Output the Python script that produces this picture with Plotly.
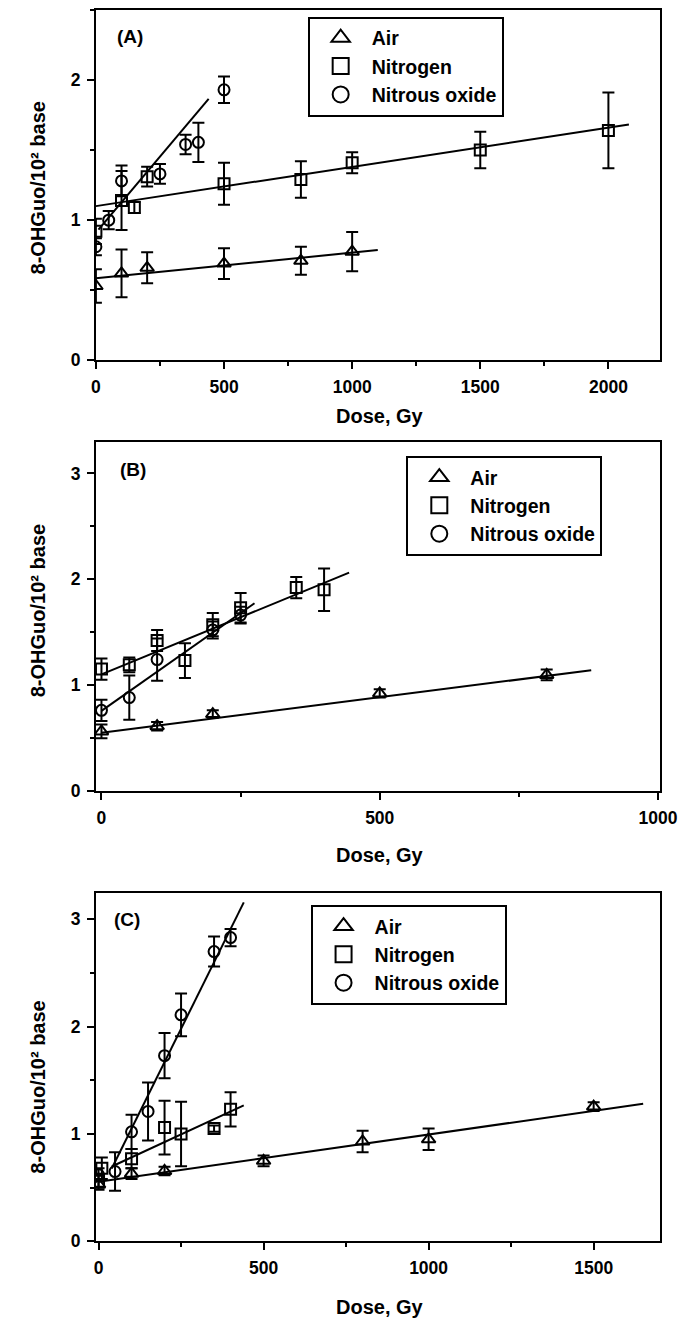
import plotly.graph_objects as go

W, H = 697, 1330
FONT = "Liberation Sans, Arial, sans-serif"

# ---------------- data ----------------
# Panel A
a_air_x = [0, 100, 200, 500, 800, 1000]
a_air_y = [0.53, 0.62, 0.66, 0.69, 0.71, 0.775]
a_air_e = [0.12, 0.17, 0.11, 0.11, 0.10, 0.14]
a_n2_x = [0, 100, 150, 200, 500, 800, 1000, 1500, 2000]
a_n2_y = [0.92, 1.14, 1.09, 1.31, 1.26, 1.29, 1.41, 1.50, 1.64]
a_n2_e = [0.09, 0.21, 0.04, 0.07, 0.15, 0.13, 0.075, 0.13, 0.27]
a_n2o_x = [0, 50, 100, 250, 350, 400, 500]
a_n2o_y = [0.81, 1.00, 1.28, 1.33, 1.54, 1.555, 1.93]
a_n2o_e = [0.06, 0.065, 0.11, 0.07, 0.07, 0.14, 0.095]
# fits: intercept, slope, x start, x end
a_air_fit = [0.585, 0.000183, 0, 1100]
a_n2_fit = [1.10, 0.00028, 0, 2080]
a_n2o_fit = [0.91, 0.00217, 10, 440]

# Panel B
b_air_x = [0, 100, 200, 500, 800]
b_air_y = [0.56, 0.61, 0.725, 0.92, 1.095]
b_air_e = [0.065, 0.04, 0.035, 0.04, 0.05]
b_n2_x = [0, 50, 100, 150, 200, 250, 350, 400]
b_n2_y = [1.15, 1.19, 1.42, 1.23, 1.57, 1.73, 1.92, 1.90]
b_n2_e = [0.10, 0.07, 0.10, 0.165, 0.11, 0.14, 0.10, 0.20]
b_n2o_x = [0, 50, 100, 200, 250]
b_n2o_y = [0.76, 0.88, 1.24, 1.52, 1.66]
b_n2o_e = [0.10, 0.21, 0.20, 0.08, 0.08]
b_air_fit = [0.549, 0.00067, 0, 880]
b_n2_fit = [1.10, 0.00216, 0, 445]
b_n2o_fit = [0.755, 0.0037, 0, 275]

# Panel C
c_air_x = [0, 100, 200, 500, 800, 1000, 1500]
c_air_y = [0.53, 0.63, 0.655, 0.75, 0.93, 0.95, 1.255]
c_air_e = [0.05, 0.05, 0.04, 0.05, 0.10, 0.10, 0.04]
c_n2_x = [0, 10, 100, 200, 250, 350, 400]
c_n2_y = [0.56, 0.68, 0.77, 1.06, 1.00, 1.05, 1.23]
c_n2_e = [0.06, 0.10, 0.09, 0.25, 0.30, 0.03, 0.16]
c_n2o_x = [0, 50, 100, 150, 200, 250, 350, 400]
c_n2o_y = [0.62, 0.65, 1.02, 1.21, 1.73, 2.11, 2.70, 2.83]
c_n2o_e = [0.06, 0.18, 0.16, 0.27, 0.21, 0.20, 0.14, 0.08]
c_air_fit = [0.555, 0.00044, 0, 1650]
c_n2_fit = [0.64, 0.001425, 40, 440]
c_n2o_fit = [0.43, 0.0062, 40, 440]

series_names = ["Air", "Nitrogen", "Nitrous oxide"]
symbols = ["triangle-up-open", "square-open", "circle-open"]
panel_labels = ["(A)", "(B)", "(C)"]
x_title = "Dose, Gy"
y_title = "8-OHGuo/10² base"

panels = [
    [(a_air_x, a_air_y, a_air_e, a_air_fit),
     (a_n2_x, a_n2_y, a_n2_e, a_n2_fit),
     (a_n2o_x, a_n2o_y, a_n2o_e, a_n2o_fit)],
    [(b_air_x, b_air_y, b_air_e, b_air_fit),
     (b_n2_x, b_n2_y, b_n2_e, b_n2_fit),
     (b_n2o_x, b_n2o_y, b_n2o_e, b_n2o_fit)],
    [(c_air_x, c_air_y, c_air_e, c_air_fit),
     (c_n2_x, c_n2_y, c_n2_e, c_n2_fit),
     (c_n2o_x, c_n2o_y, c_n2o_e, c_n2o_fit)],
]

# ---------------- layout geometry (pixels) ----------------
x_left, x_right = 94, 677
panel_px = [(10, 363), (445, 796.7), (899.3, 1250.7)]  # top, bottom
x_ranges = [[0, 2200], [-10, 1003], [-8, 1700]]
y_ranges = [[0, 2.5], [0, 3.3], [0, 3.25]]
legend_pos = [(313, 16.7), (415, 459.3), (316, 911.7)]
ytitle_center = [189, 615, 1095]
xtitle_center = [419, 861, 1316.5]
label_pos = [(0.06, 0.924), (0.065, 0.92), (0.056, 0.922)]

fig = go.Figure()
legend_keys = ["legend", "legend2", "legend3"]

for p, panel in enumerate(panels):
    xa = "x" if p == 0 else f"x{p+1}"
    ya = "y" if p == 0 else f"y{p+1}"
    for s, (xs, ys, es, fit) in enumerate(panel):
        b0, b1, xs0, xs1 = fit
        fx = [xs0, xs1]
        fy = [b0 + b1 * v for v in fx]
        fig.add_trace(go.Scatter(
            x=fx, y=fy, mode="lines", line=dict(color="black", width=2),
            xaxis=xa, yaxis=ya, showlegend=False, hoverinfo="skip"))
        fig.add_trace(go.Scatter(
            x=xs, y=ys, mode="markers",
            marker=dict(symbol=symbols[s], size=12 if s == 0 else 11,
                        color="black", line=dict(width=2, color="black")),
            error_y=dict(type="data", array=es, color="black",
                         thickness=2, width=6),
            xaxis=xa, yaxis=ya, showlegend=False, name=series_names[s]))
    for s in range(3):
        fig.add_trace(go.Scatter(
            x=[None], y=[None], mode="markers", name=series_names[s],
            marker=dict(symbol=symbols[s], size=16, color="black",
                        line=dict(width=2, color="black")),
            xaxis=xa, yaxis=ya, legend=legend_keys[p], showlegend=True))

layout = dict(
    width=W, height=H,
    margin=dict(l=0, r=0, t=0, b=0),
    paper_bgcolor="white", plot_bgcolor="white",
    font=dict(family=FONT, color="black"),
    annotations=[],
)

for p in range(3):
    top, bot = panel_px[p]
    xk = "xaxis" if p == 0 else f"xaxis{p+1}"
    yk = "yaxis" if p == 0 else f"yaxis{p+1}"
    xa = "x" if p == 0 else f"x{p+1}"
    ya = "y" if p == 0 else f"y{p+1}"
    common = dict(showgrid=False, zeroline=False, showline=True, mirror=True,
                  linecolor="black", linewidth=2, ticks="outside",
                  ticklen=7, tickwidth=2, tickcolor="black",
                  tickfont=dict(family=FONT, size=17.5, weight="bold", color="black"))
    layout[xk] = dict(common, domain=[x_left / W, x_right / W], anchor=ya,
                      range=x_ranges[p], tick0=0, dtick=500,
                      ticklabelstandoff=3,
                      minor=dict(ticks="outside", ticklen=4, tickwidth=1.5,
                                 dtick=250, tick0=0, tickcolor="black"))
    layout[yk] = dict(common, domain=[1 - bot / H, 1 - top / H], anchor=xa,
                      range=y_ranges[p], tick0=0, dtick=1,
                      ticklabelstandoff=3,
                      minor=dict(ticks="outside", ticklen=4, tickwidth=1.5,
                                 dtick=0.5, tick0=0, tickcolor="black"))
    lx, ly = legend_pos[p]
    layout[legend_keys[p]] = dict(
        x=lx / W, y=1 - ly / H, xanchor="left", yanchor="top",
        bordercolor="black", borderwidth=2, bgcolor="white",
        font=dict(family=FONT, size=19.5, weight="bold", color="black"),
        itemwidth=52, tracegroupgap=0)
    layout["annotations"].append(dict(
        text=y_title, xref="paper", yref="paper", x=34 / W,
        y=1 - ytitle_center[p] / H, xanchor="center", yanchor="middle",
        textangle=-90, showarrow=False,
        font=dict(family=FONT, size=20, weight="bold", color="black")))
    layout["annotations"].append(dict(
        text=x_title, xref="paper", yref="paper", x=388 / W,
        y=1 - xtitle_center[p] / H, xanchor="center", yanchor="middle",
        showarrow=False,
        font=dict(family=FONT, size=20, weight="bold", color="black")))
    lxp, lyp = label_pos[p]
    layout["annotations"].append(dict(
        text=panel_labels[p], xref=f"{xa} domain", yref=f"{ya} domain",
        x=lxp, y=lyp, xanchor="center", yanchor="middle", showarrow=False,
        font=dict(family=FONT, size=19, weight="bold", color="black")))

fig.update_layout(**layout)
fig.write_html("out.html")
